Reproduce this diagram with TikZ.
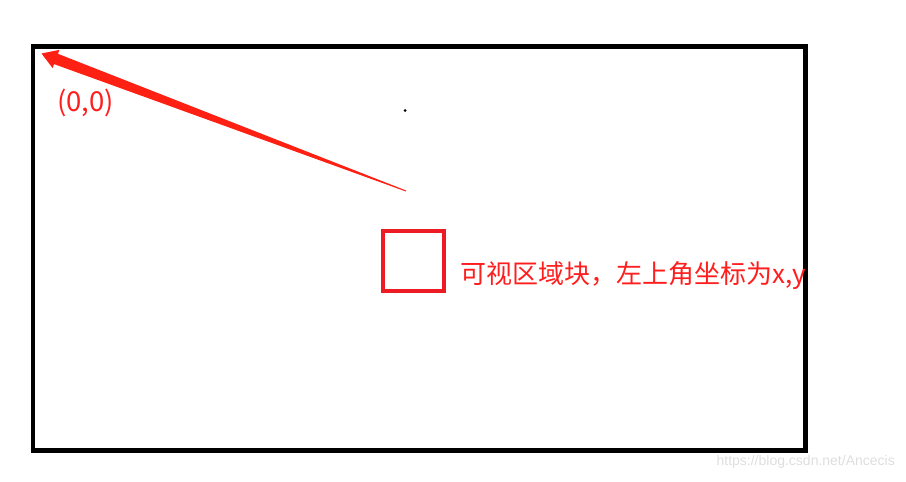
\documentclass[tikz,border=0pt]{standalone}
\usepackage{fontspec}
\newfontfamily\cjk{Noto Sans CJK SC}
\newfontfamily\webfont{Liberation Sans}
\usepackage{tikz}
\usetikzlibrary{calc}
\definecolor{arrowred}{RGB}{255,32,20}
\definecolor{boxred}{RGB}{237,28,36}
\definecolor{textred}{RGB}{255,30,30}
\definecolor{marklight}{RGB}{222,222,222}

\begin{document}
\begin{tikzpicture}[x=1pt, y=-1pt,
		viewbox/.style={draw=boxred, line width=4pt, minimum width=61pt, minimum height=60pt, inner sep=0pt},
		redlabel/.style={text=textred, font=\cjk\fontsize{26}{30}\selectfont, inner sep=0pt, anchor=base west},
		dotmark/.style={circle, fill=black, minimum size=3pt, inner sep=0pt}]
				\useasboundingbox (0,0) rectangle (906,482);
				% canvas
				\draw[line width=4.5pt, black] (33,46.5) rectangle (805.5,450.5);
				% arrow to the origin
				\coordinate (origin) at (41.5,53.5);
				\coordinate (tail) at (406,191);
				\coordinate (headbase) at ($(origin)!15.5pt!(tail)$);
				\fill[arrowred] ($(tail)!0.5pt!90:(origin)$) -- ($(headbase)!5.5pt!-90:(tail)$)
					-- ($(headbase)!9.7pt!-90:(tail)$) -- (origin) -- ($(headbase)!9.7pt!90:(tail)$)
					-- ($(headbase)!5.5pt!90:(tail)$) -- ($(tail)!0.5pt!-90:(origin)$) -- cycle;
				\node[redlabel, font=\cjk\fontsize{27.5}{30}\selectfont] (zero) at (57,111) {(0,0)};
				\node[dotmark] (mark) at (405,110.5) {};
				% visible block
				\node[viewbox] (block) at (413,261) {};
				\node[redlabel] (blocklabel) at (460,283) {可视区域块，左上角坐标为x,y};
				\node[text=marklight, font=\webfont\fontsize{14}{16}\selectfont, inner sep=0pt, anchor=base east] (site) at (895,465) {https://blog.csdn.net/Ancecis};
			\end{tikzpicture}
\end{document}
